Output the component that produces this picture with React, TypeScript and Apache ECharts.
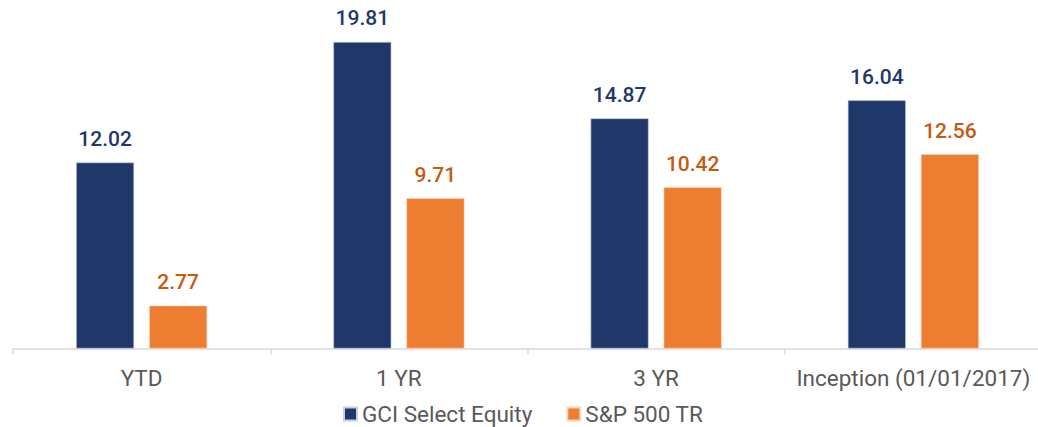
import React, { useEffect, useRef } from "react";
import * as echarts from "echarts";

const categories = ["YTD", "1 YR", "3 YR", "Inception (01/01/2017)"];
const gciValues = [12.02, 19.81, 14.87, 16.04];
const spValues = [2.77, 9.71, 10.42, 12.56];
const seriesNames = ["GCI Select Equity", "S&P 500 TR"];

const FONT = "Roboto, 'Noto Sans', sans-serif";

export default function App() {
  const ref = useRef<HTMLDivElement>(null);
  useEffect(() => {
    if (!ref.current) return;
    const chart = echarts.init(ref.current, null, { renderer: "svg" });
    chart.setOption({
      animation: false,
      textStyle: { fontFamily: FONT },
      grid: { left: 13, width: 1029, top: 39, bottom: 78.5, containLabel: false },
      legend: {
        top: 402,
        left: 343,
        padding: 0,
        itemWidth: 13,
        itemHeight: 13,
        itemGap: 34,
        icon: "rect",
        textStyle: { fontSize: 22.5, color: "#595959", fontFamily: FONT, lineHeight: 24 },
        data: seriesNames,
      },
      xAxis: {
        type: "category",
        data: categories,
        axisLine: { lineStyle: { color: "#d9d9d9", width: 1.5 } },
        axisTick: { show: true, length: 6, lineStyle: { color: "#d9d9d9", width: 1.5 } },
        axisLabel: { interval: 0, fontSize: 22.5, color: "#595959", margin: 18, fontFamily: FONT },
      },
      yAxis: {
        type: "value",
        min: 0,
        max: 20,
        show: false,
        splitLine: { show: false },
      },
      series: [
        {
          name: seriesNames[0],
          type: "bar",
          data: gciValues,
          barWidth: 58,
          barGap: "26%",
          itemStyle: { color: "#1f3869", borderColor: "#c8cfe0", borderWidth: 0.6 },
          label: {
            show: true,
            position: "top",
            distance: 13,
            fontSize: 21,
            fontWeight: 500,
            color: "#1f3869",
            fontFamily: FONT,
            formatter: (p: any) => p.value.toFixed(2),
          },
        },
        {
          name: seriesNames[1],
          type: "bar",
          data: spValues,
          barWidth: 58,
          itemStyle: { color: "#ed7d31", borderColor: "#f8d4bd", borderWidth: 0.6 },
          label: {
            show: true,
            position: "top",
            distance: 13,
            fontSize: 21,
            fontWeight: 500,
            color: "#c55a11",
            fontFamily: FONT,
            formatter: (p: any) => p.value.toFixed(2),
          },
        },
      ],
    });
    return () => chart.dispose();
  }, []);
  return (
    <div
      ref={ref}
      style={{ position: "fixed", left: 0, top: 0, width: 1060, height: 427, background: "#fff" }}
    />
  );
}
